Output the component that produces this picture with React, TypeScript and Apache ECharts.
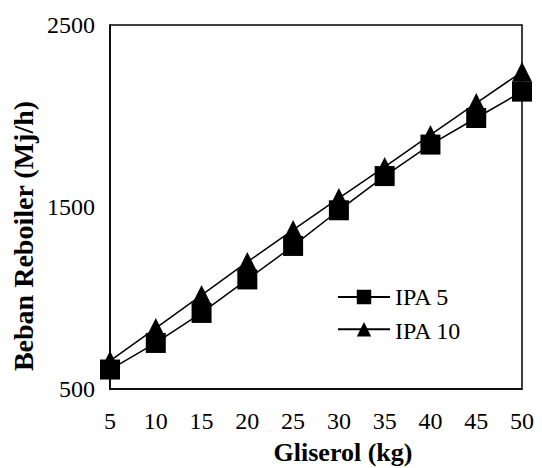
import React, { useEffect, useRef } from "react";
import * as echarts from "echarts";

const gliserol = [5, 10, 15, 20, 25, 30, 35, 40, 45, 50];
const ipa5 = [607, 753, 918, 1102, 1286, 1482, 1670, 1843, 1989, 2134];
const ipa10 = [655, 835, 1016, 1198, 1374, 1549, 1720, 1896, 2071, 2243];
const seriesNames = ["IPA 5", "IPA 10"];
const xTitle = "Gliserol (kg)";
const yTitle = "Beban Reboiler (Mj/h)";

const FONT = "Liberation Serif";

export default function App() {
  const ref = useRef<HTMLDivElement>(null);
  useEffect(() => {
    document.body.style.margin = "0";
    const chart = echarts.init(ref.current!, null, { renderer: "svg" });
    const pairs = (ys: number[]) => gliserol.map((x, i) => [x, ys[i]]);
    const legendTop = 283;
    const legendStep = 34;
    chart.setOption({
      animation: false,
      backgroundColor: "#ffffff",
      textStyle: { fontFamily: FONT, color: "#000" },
      grid: {
        left: 110,
        right: 20,
        top: 25,
        bottom: 79,
        show: true,
        borderColor: "#000",
        borderWidth: 1.5,
        containLabel: false,
      },
      legend: {
        data: seriesNames,
        orient: "vertical",
        left: 332,
        top: legendTop,
        itemWidth: 52,
        itemHeight: 18,
        itemGap: legendStep - 18,
        formatter: () => "",
        textStyle: { fontFamily: FONT, fontSize: 24, color: "#000" },
      },
      graphic: [
        ...seriesNames.map((n, i) => ({
          type: "text",
          x: 395,
          y: legendTop + 5 + 9 + i * legendStep,
          style: {
            text: n,
            fontFamily: FONT,
            fontSize: 24,
            fill: "#000",
            align: "left",
            verticalAlign: "middle",
          },
        })),
        {
          type: "text",
          x: 343,
          y: 452,
          style: {
            text: xTitle,
            fontFamily: FONT,
            fontSize: 26,
            fontWeight: "bold",
            fill: "#000",
            align: "center",
            verticalAlign: "middle",
          },
        },
        {
          type: "text",
          x: 23,
          y: 236,
          rotation: Math.PI / 2,
          style: {
            text: yTitle,
            fontFamily: FONT,
            fontSize: 28,
            fontWeight: "bold",
            fill: "#000",
            align: "center",
            verticalAlign: "middle",
          },
        },
      ],
      xAxis: {
        type: "value",
        min: 5,
        max: 50,
        interval: 5,
        axisLine: { show: true, lineStyle: { color: "#000", width: 1.5 } },
        axisTick: { show: false },
        splitLine: { show: false },
        axisLabel: { fontFamily: FONT, fontSize: 24, color: "#000", margin: 20 },
      },
      yAxis: {
        type: "value",
        min: 500,
        max: 2500,
        interval: 1000,
        axisLine: { show: true, lineStyle: { color: "#000", width: 1.5 } },
        axisTick: { show: false },
        splitLine: { show: false },
        axisLabel: {
          fontFamily: FONT,
          fontSize: 24,
          color: "#000",
          margin: 15,
          formatter: (v: number) => String(v),
        },
      },
      series: [
        {
          name: seriesNames[1],
          type: "line",
          data: pairs(ipa10),
          symbol: "triangle",
          symbolSize: 20,
          z: 2,
          itemStyle: { color: "#000" },
          lineStyle: { color: "#000", width: 1.5 },
        },
        {
          name: seriesNames[0],
          type: "line",
          data: pairs(ipa5),
          symbol: "rect",
          symbolSize: 20,
          z: 3,
          itemStyle: { color: "#000" },
          lineStyle: { color: "#000", width: 1.5 },
        },
      ],
    });
    return () => chart.dispose();
  }, []);
  return <div ref={ref} style={{ width: 542, height: 468 }} />;
}
